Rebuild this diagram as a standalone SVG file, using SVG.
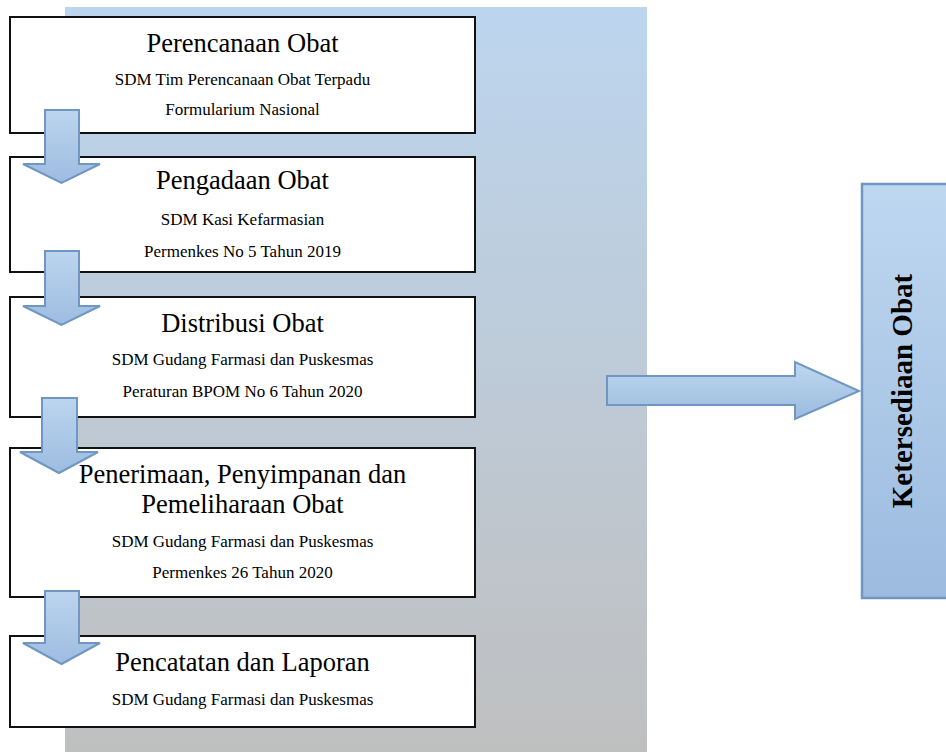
<svg xmlns="http://www.w3.org/2000/svg" width="946" height="752" viewBox="0 0 946 752">
<defs>
<linearGradient id="panelGrad" x1="0" y1="0" x2="0" y2="1">
<stop offset="0" stop-color="#BCD5EE"/>
<stop offset="1" stop-color="#BFBFBF"/>
</linearGradient>
<linearGradient id="blueGrad" x1="0" y1="0" x2="0" y2="1">
<stop offset="0" stop-color="#BFD7F0"/>
<stop offset="1" stop-color="#9BBBDF"/>
</linearGradient>
<linearGradient id="arrowGradV" x1="0" y1="0" x2="0" y2="1">
<stop offset="0" stop-color="#BCD5EF"/>
<stop offset="1" stop-color="#9DBCE0"/>
</linearGradient>
<style>
.box{fill:#FFFFFF;stroke:#111111;stroke-width:2}
.title{font-family:'Liberation Serif','Times New Roman',serif;font-size:26.5px;fill:#000;text-anchor:middle}
.sub{font-family:'Liberation Serif','Times New Roman',serif;font-size:17px;fill:#000;text-anchor:middle}
.arrow{stroke:#6F97C1;stroke-width:2;stroke-linejoin:miter}
.down{fill:url(#arrowGradV)}
.right{fill:url(#blueGrad)}
.result{fill:url(#blueGrad);stroke:#7097C1;stroke-width:2.5}
.resultText{font-family:'Liberation Serif','Times New Roman',serif;font-size:29px;font-weight:bold;fill:#000;text-anchor:middle}
</style>
</defs>
<rect id="panel" x="65" y="7" width="582" height="750" fill="url(#panelGrad)"/>
<g font-family="Liberation Serif, serif">
<g id="node-perencanaan">
<rect class="box" x="10" y="17" width="465" height="116"/>
<text class="title" x="242.5" y="52">Perencanaan Obat</text>
<text class="sub" x="242.5" y="85">SDM Tim Perencanaan Obat Terpadu</text>
<text class="sub" x="242.5" y="115">Formularium Nasional</text>
</g>
<g id="node-pengadaan">
<rect class="box" x="10" y="157" width="465" height="115"/>
<text class="title" x="242.5" y="189">Pengadaan Obat</text>
<text class="sub" x="242.5" y="225">SDM Kasi Kefarmasian</text>
<text class="sub" x="242.5" y="257">Permenkes No 5 Tahun 2019</text>
</g>
<g id="node-distribusi">
<rect class="box" x="10" y="297" width="465" height="120"/>
<text class="title" x="242.5" y="332">Distribusi Obat</text>
<text class="sub" x="242.5" y="365">SDM Gudang Farmasi dan Puskesmas</text>
<text class="sub" x="242.5" y="397">Peraturan BPOM No 6 Tahun 2020</text>
</g>
<g id="node-penerimaan">
<rect class="box" x="10" y="448" width="465" height="149"/>
<text class="title" x="242.5" y="483">Penerimaan, Penyimpanan dan</text>
<text class="title" x="242.5" y="513">Pemeliharaan Obat</text>
<text class="sub" x="242.5" y="547">SDM Gudang Farmasi dan Puskesmas</text>
<text class="sub" x="242.5" y="578">Permenkes 26 Tahun 2020</text>
</g>
<g id="node-pencatatan">
<rect class="box" x="10" y="636" width="465" height="91"/>
<text class="title" x="242.5" y="671">Pencatatan dan Laporan</text>
<text class="sub" x="242.5" y="705">SDM Gudang Farmasi dan Puskesmas</text>
</g>
<g id="node-ketersediaan">
<rect class="result" x="862" y="184" width="100" height="414"/>
<text class="resultText" transform="translate(912 391) rotate(-90)">Ketersediaan Obat</text>
</g>
</g>
<g id="connectors">
<polygon class="arrow down" points="45,110 79,110 79,164 100,164 61.5,183 23,164 45,164"/>
<polygon class="arrow down" points="45,251 79,251 79,306 100,306 61.5,325 23,306 45,306"/>
<polygon class="arrow down" points="42,398 77,398 77,452 98,452 59,473 20,452 42,452"/>
<polygon class="arrow down" points="45,591 79,591 79,643 100,643 61.5,664 23,643 45,643"/>
<polygon class="arrow right" points="607,376 795,376 795,362 859,391 795,419 795,405 607,405"/>
</g>
</svg>
